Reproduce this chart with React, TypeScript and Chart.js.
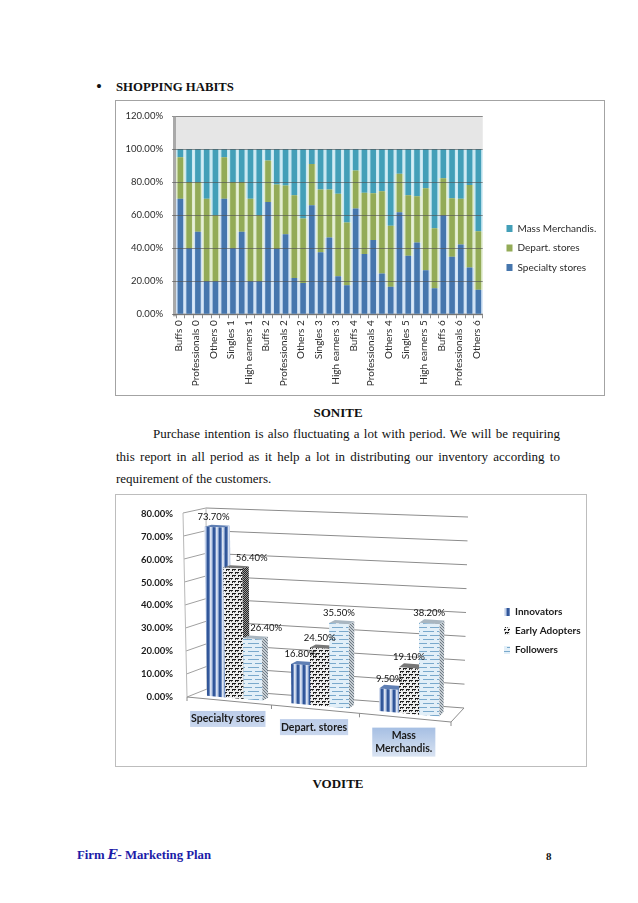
import React, { useEffect, useRef } from "react";
import { Chart, registerables } from "chart.js";

Chart.register(...registerables);

// ---------- Chart 1 data (SONITE) ----------
const segments = ["Buffs", "Singles", "Professionals", "High earners", "Others"];
const periods = [0, 1, 2, 3, 4, 5, 6];
const sonLabels: string[] = periods.flatMap((p) => segments.map((s) => `${s} ${p}`));
const sonSpecialty = [70, 40, 50, 20, 20, 70, 40, 50, 20, 20, 68, 39.5, 48.5, 22, 19, 66, 37.5, 46.5, 23, 17.6, 64, 36.5, 45, 24.7, 16.6, 61.7, 35.4, 43.5, 26.7, 15.8, 60, 34.8, 42.3, 28.3, 14.8];
const sonDepart = [25, 40, 30, 50, 40, 25, 40, 30, 50, 40, 25, 39, 29.5, 50, 39, 25, 38, 29, 50, 38, 23, 37, 28.3, 49.8, 37, 23.3, 36.6, 28, 49.6, 36.2, 22.4, 35.4, 27.7, 50, 35.4];
const sonMass = [5, 20, 20, 30, 40, 5, 20, 20, 30, 40, 7, 21.5, 22, 28, 42, 9, 24.5, 24.5, 27, 44.4, 13, 26.5, 26.7, 25.5, 46.4, 15, 28, 28.5, 23.7, 48, 17.6, 29.8, 30, 21.7, 49.8];
const sonTicksMax = 120;
const sonTickStep = 20;

// ---------- Chart 2 data (VODITE) ----------
const vodCategories: (string | string[])[] = ["Specialty stores", "Depart. stores", ["Mass", "Merchandis."]];
const vodInnovators = [73.7, 16.8, 9.5];
const vodEarly = [56.4, 24.5, 19.1];
const vodFollowers = [26.4, 35.5, 38.2];
const vodTicksMax = 80;
const vodTickStep = 10;

const pct = (v: any) => Number(v).toFixed(2) + "%";
const FONT = "Lato, Carlito, 'Open Sans', sans-serif";

// ---------- Patterns ----------
function tile(w: number, h: number, draw: (c: CanvasRenderingContext2D) => void): CanvasPattern {
  const cv = document.createElement("canvas");
  cv.width = w;
  cv.height = h;
  const c = cv.getContext("2d")!;
  draw(c);
  return document.createElement("canvas").getContext("2d")!.createPattern(cv, "repeat")!;
}
const stripePattern = () =>
  tile(6, 4, (c) => {
    ["#c3d0e8", "#7f9ac8", "#2f5597", "#36599c", "#6f8dc0", "#dbe3f1"].forEach((col, i) => {
      c.fillStyle = col;
      c.fillRect(i, 0, 1, 4);
    });
  });
const brickPattern = () =>
  tile(6, 6, (c) => {
    c.fillStyle = "#eeeeee";
    c.fillRect(0, 0, 6, 6);
    c.fillStyle = "#1e1e1e";
    c.fillRect(0, 0, 4, 1);
    c.fillRect(0, 1, 1, 1);
    c.fillRect(3, 3, 3, 1);
    c.fillRect(0, 3, 1, 1);
    c.fillRect(3, 4, 1, 1);
    c.fillStyle = "#6a6a6a";
    c.fillRect(2, 1, 1, 1);
    c.fillRect(5, 4, 1, 1);
  });
const dashPattern = () =>
  tile(14, 8, (c) => {
    c.fillStyle = "#e2eff8";
    c.fillRect(0, 0, 14, 8);
    c.fillStyle = "#7aa9cc";
    c.fillRect(0, 1, 11, 1);
    c.fillRect(7, 5, 7, 1);
    c.fillRect(0, 5, 4, 1);
  });
const sidePattern = () =>
  tile(3, 3, (c) => {
    c.fillStyle = "#c4ccd2";
    c.fillRect(0, 0, 3, 3);
    c.fillStyle = "#6f7a84";
    c.fillRect(0, 0, 1, 1);
    c.fillRect(1, 1, 1, 1);
    c.fillRect(2, 2, 1, 1);
  });
const darkSidePattern = () =>
  tile(2, 2, (c) => {
    c.fillStyle = "#9a9a9a";
    c.fillRect(0, 0, 2, 2);
    c.fillStyle = "#222222";
    c.fillRect(0, 0, 1, 1);
    c.fillRect(1, 1, 1, 1);
  });

// ---------- Plugins ----------
const sonBackdrop = {
  id: "sonBackdrop",
  afterLayout(chart: any) {
    const l = chart.legend;
    const dx = 382 - l.left;
    l.left += dx;
    l.right += dx;
    l.top -= 8;
    l.bottom -= 8;
  },
  beforeDatasetsDraw(chart: any) {
    const { ctx, chartArea: a, scales } = chart;
    const y100 = scales.y.getPixelForValue(100);
    ctx.save();
    ctx.fillStyle = "#e6e6e6";
    ctx.fillRect(a.left, a.top, a.right - a.left, y100 - a.top);
    ctx.fillStyle = "#a9a9a9";
    ctx.fillRect(a.left - 3, a.top + 1, 3, a.bottom - a.top + 1);
    const tints = ["#cfe1f4", "#e0ebcd", "#c9e8f2"];
    const cell = (a.right - a.left) / sonLabels.length;
    chart.data.datasets.forEach((_: any, di: number) => {
      chart.getDatasetMeta(di).data.forEach((el: any) => {
        ctx.fillStyle = tints[di];
        ctx.fillRect(el.x - cell / 2, el.y, cell, el.base - el.y);
      });
    });
    ctx.fillStyle = "#b4b4b4";
    ctx.fillRect(a.left, a.bottom - 1, a.right - a.left, 2);
    ctx.restore();
  },
};

// Perspective frame of the 3D chart, as offsets in canvas pixels.
const OX = 115;
const OY = 494;
const CORNERS = {
  fbl: [187 - OX, 697 - OY],
  fbr: [451 - OX, 722 - OY],
  ftl: [183 - OX, 513 - OY],
  ftr: [450 - OX, 527 - OY],
  bbl: [207 - OX, 689 - OY],
  bbr: [464 - OX, 708 - OY],
  btl: [206 - OX, 508 - OY],
  btr: [468 - OX, 517 - OY],
};
const D0 = 0.3;
const D1 = 0.62;
const WARP = 0.06;
const LABEL_SHIFT: Record<string, number> = { "1:0": 19, "2:0": 14 };

function projector(chart: any) {
  const a = chart.chartArea;
  const mix = (p: number[], q: number[], t: number) => [p[0] + (q[0] - p[0]) * t, p[1] + (q[1] - p[1]) * t];
  return (px: number, py: number, d: number) => {
    const u0 = (px - a.left) / (a.right - a.left);
    const u = u0 - WARP * u0 * (1 - u0);
    const v = (a.bottom - py) / (a.bottom - a.top);
    const C = CORNERS;
    const f = mix(mix(C.fbl, C.fbr, u), mix(C.ftl, C.ftr, u), v);
    const b = mix(mix(C.bbl, C.bbr, u), mix(C.btl, C.btr, u), v);
    return mix(f, b, d);
  };
}
function poly(ctx: CanvasRenderingContext2D, pts: number[][]) {
  ctx.beginPath();
  pts.forEach((p, i) => (i ? ctx.lineTo(p[0], p[1]) : ctx.moveTo(p[0], p[1])));
  ctx.closePath();
}

const vodFrame = {
  id: "vodFrame",
  afterLayout(chart: any) {
    const l = chart.legend;
    const dx = 380 - l.left;
    l.left += dx;
    l.right += dx;
    l.top -= 9;
    l.bottom -= 9;
  },
  beforeDatasetDraw() {
    return false;
  },
  beforeDatasetsDraw(chart: any) {
    const { ctx, chartArea: a, scales } = chart;
    const P = projector(chart);
    const line = (pts: number[][], col: string) => {
      ctx.strokeStyle = col;
      ctx.lineWidth = 1;
      ctx.beginPath();
      pts.forEach((p, i) => (i ? ctx.lineTo(p[0], p[1]) : ctx.moveTo(p[0], p[1])));
      ctx.stroke();
    };
    ctx.save();
    scales.y.ticks.forEach((t: any) => {
      const y = scales.y.getPixelForValue(t.value);
      line([P(a.left, y, 0), P(a.left, y, 1)], "#a0a0a0");
      line([P(a.left, y, 1), P(a.right, y, 1)], "#8c8c8c");
    });
    line([P(a.left, a.top, 0), P(a.left, a.bottom, 0)], "#b8b8b8");
    line([P(a.left, a.top, 1), P(a.left, a.bottom, 1)], "#b8b8b8");
    line([P(a.left, a.bottom, 0), P(a.right, a.bottom, 0), P(a.right, a.bottom, 1)], "#8c8c8c");
    for (let i = 0; i <= vodCategories.length; i++) {
      const x = a.left + ((a.right - a.left) * i) / vodCategories.length;
      const p = P(x, a.bottom, 0);
      line([p, [p[0], p[1] + 4]], "#8c8c8c");
    }
    const sides = [null, darkSidePattern(), sidePattern()];
    for (let c = 0; c < vodCategories.length; c++) {
      chart.data.datasets.forEach((ds: any, di: number) => {
        const el = chart.getDatasetMeta(di).data[c];
        const l = el.x - el.width / 2;
        const r = el.x + el.width / 2;
        const ftl = P(l, el.y, D0);
        const ftr = P(r, el.y, D0);
        const fbl = P(l, el.base, D0);
        const fbr = P(r, el.base, D0);
        const btl = P(l, el.y, D1);
        const btr = P(r, el.y, D1);
        const bbr = P(r, el.base, D1);
        poly(ctx, [ftr, btr, bbr, fbr]);
        ctx.fillStyle = sides[di] || ds.backgroundColor;
        ctx.fill();
        poly(ctx, [ftl, btl, btr, ftr]);
        ctx.fillStyle = di === 0 ? "#5f7fb4" : di === 1 ? "#777777" : "#a9b6c0";
        ctx.fill();
        poly(ctx, [ftl, ftr, fbr, fbl]);
        ctx.fillStyle = ds.backgroundColor;
        ctx.fill();
      });
    }
    ctx.restore();
  },
  afterDatasetsDraw(chart: any) {
    const { ctx, chartArea: a, scales } = chart;
    const P = projector(chart);
    ctx.save();
    ctx.textAlign = "center";
    ctx.textBaseline = "middle";
    ctx.fillStyle = "#111";
    ctx.font = `9.5px ${FONT}`;
    chart.data.datasets.forEach((ds: any, di: number) => {
      chart.getDatasetMeta(di).data.forEach((el: any, i: number) => {
        const p = P(el.x, el.y, D0);
        const shift = LABEL_SHIFT[`${di}:${i}`] || 0;
        ctx.fillText(pct(ds.data[i]), p[0] + shift, p[1] - 10.5);
      });
    });
    // Category labels sit under the slanted floor, each with its blue plate.
    ctx.font = `bold 10.5px ${FONT}`;
    chart.data.labels.forEach((lab: any, i: number) => {
      const x = scales.x.getPixelForValue(i);
      const p = P(x, a.bottom, 0);
      const cx = p[0] - 1;
      const lines: string[] = Array.isArray(lab) ? lab : [lab];
      const cy = p[1] + 18;
      const w = Math.max(...lines.map((s) => ctx.measureText(s).width)) + 2;
      const plateW = lines.length > 1 ? w + 4 : w;
      const top = cy - 8;
      const h = lines.length * 13 + 3;
      const g = ctx.createLinearGradient(0, top, 0, top + h);
      g.addColorStop(0, lines.length > 1 ? "#a6bfe3" : "#bccde9");
      g.addColorStop(1, lines.length > 1 ? "#d9e3f2" : "#c9d7ee");
      ctx.fillStyle = g;
      ctx.fillRect(cx - plateW / 2, top, plateW, h);
      ctx.fillStyle = "#1a1a1a";
      lines.forEach((s, k) => ctx.fillText(s, cx, cy + k * 13));
    });
    ctx.restore();
  },
};

// ---------- Layout helpers ----------
const T: React.CSSProperties = {
  position: "absolute",
  fontFamily: "'Liberation Serif', 'Times New Roman', serif",
  color: "#111",
  whiteSpace: "nowrap",
  margin: 0,
};

export default function App() {
  const sonRef = useRef<HTMLCanvasElement>(null);
  const vodRef = useRef<HTMLCanvasElement>(null);

  useEffect(() => {
    const son = new Chart(sonRef.current!, {
      type: "bar",
      data: {
        labels: sonLabels,
        datasets: [
          { label: "Specialty stores", data: sonSpecialty, backgroundColor: "#4676ad", barPercentage: 0.64, categoryPercentage: 1 },
          { label: "Depart. stores", data: sonDepart, backgroundColor: "#93ab57", barPercentage: 0.64, categoryPercentage: 1 },
          { label: "Mass Merchandis.", data: sonMass, backgroundColor: "#439fb8", barPercentage: 0.64, categoryPercentage: 1 },
        ],
      },
      options: {
        responsive: false,
        animation: false,
        devicePixelRatio: 1,
        layout: { padding: { top: 16, right: 13, left: 0, bottom: 0 } },
        plugins: {
          tooltip: { enabled: false },
          title: { display: false },
          legend: {
            position: "right",
            reverse: true,
            labels: { boxWidth: 6, boxHeight: 7, padding: 9.5, color: "#2b2b2b", font: { family: FONT, size: 10 } },
          },
        },
        scales: {
          x: {
            stacked: true,
            afterFit: (s: any) => { s.height = 81.7; },
            border: { color: "#8c8c8c" },
            grid: { drawOnChartArea: false, drawTicks: true, tickLength: 4, color: "#8c8c8c" },
            ticks: {
              autoSkip: false,
              minRotation: 90,
              maxRotation: 90,
              padding: 2,
              labelOffset: -2,
              color: "#2b2b2b",
              font: { family: FONT, size: 10 },
              callback(this: any, v: any, i: number) {
                return i % 2 === 0 ? this.getLabelForValue(v) : "";
              },
            },
          },
          y: {
            stacked: true,
            min: 0,
            max: sonTicksMax,
            afterFit: (s: any) => { s.width = 61; },
            border: { display: false },
            grid: { z: 1, color: "rgba(80,80,80,0.62)", tickLength: 4 },
            ticks: { stepSize: sonTickStep, padding: 9, color: "#2b2b2b", font: { family: FONT, size: 9.5 }, callback: pct },
          },
        },
      },
      plugins: [sonBackdrop],
    } as any);

    const vod = new Chart(vodRef.current!, {
      type: "bar",
      data: {
        labels: vodCategories as any,
        datasets: [
          { label: "Innovators", data: vodInnovators, backgroundColor: stripePattern() as any },
          { label: "Early Adopters", data: vodEarly, backgroundColor: brickPattern() as any },
          { label: "Followers", data: vodFollowers, backgroundColor: dashPattern() as any },
        ],
      },
      options: {
        responsive: false,
        animation: false,
        devicePixelRatio: 1,
        layout: { padding: { top: 19, right: 30, left: 0, bottom: 0 } },
        datasets: { bar: { barPercentage: 1, categoryPercentage: 0.66 } },
        plugins: {
          tooltip: { enabled: false },
          title: { display: false },
          legend: {
            position: "right",
            labels: { boxWidth: 6, boxHeight: 8, padding: 9, color: "#1a1a1a", font: { family: FONT, size: 10, weight: "bold" } },
          },
        },
        scales: {
          x: {
            afterFit: (s: any) => { s.height = 70; },
            border: { display: false },
            grid: { display: false },
            ticks: { display: false },
          },
          y: {
            min: 0,
            max: vodTicksMax,
            afterFit: (s: any) => { s.width = 72; },
            border: { display: false },
            grid: { display: false, drawTicks: false },
            ticks: { stepSize: vodTickStep, padding: 14, color: "#1a1a1a", font: { family: FONT, size: 9.5, weight: "bold" }, callback: pct },
          },
        },
      },
      plugins: [vodFrame],
    } as any);

    return () => {
      son.destroy();
      vod.destroy();
    };
  }, []);

  return (
    <div style={{ position: "absolute", left: 0, top: 0, width: 638, height: 903, background: "#fff", overflow: "hidden" }}>
      <div style={{ ...T, left: 96, top: 77, fontSize: 17 }}>•</div>
      <div style={{ ...T, left: 116, top: 80, fontSize: 12.75, fontWeight: "bold" }}>SHOPPING HABITS</div>

      <div style={{ position: "absolute", left: 115, top: 100, width: 490, height: 296, outline: "1px solid #a3a3a3", outlineOffset: -1 }}>
        <canvas ref={sonRef} width={490} height={296} style={{ display: "block" }} />
      </div>

      <div style={{ ...T, left: 0, width: 676, top: 405, textAlign: "center", fontSize: 13, fontWeight: "bold" }}>SONITE</div>
      <div style={{ ...T, left: 153, width: 407, top: 426, fontSize: 13, textAlign: "justify", textAlignLast: "justify", whiteSpace: "normal" }}>
        Purchase intention is also fluctuating a lot with period. We will be requiring
      </div>
      <div style={{ ...T, left: 116, width: 444, top: 449, fontSize: 13, textAlign: "justify", textAlignLast: "justify", whiteSpace: "normal" }}>
        this report in all period as it help a lot in distributing our inventory according to
      </div>
      <div style={{ ...T, left: 116, top: 471, fontSize: 13 }}>requirement of the customers.</div>

      <div style={{ position: "absolute", left: 115, top: 494, width: 472, height: 273, outline: "1px solid #bdbdbd", outlineOffset: -1 }}>
        <canvas ref={vodRef} width={472} height={273} style={{ display: "block" }} />
      </div>

      <div style={{ ...T, left: 0, width: 676, top: 776, textAlign: "center", fontSize: 13, fontWeight: "bold" }}>VODITE</div>

      <div style={{ ...T, left: 77, top: 847, fontSize: 12.75, fontWeight: "bold", color: "#1c1ca8" }}>
        Firm <span style={{ fontStyle: "italic", fontFamily: "'DejaVu Serif'" }}>E</span>- Marketing Plan
      </div>
      <div style={{ ...T, left: 546, top: 850, fontSize: 11, fontWeight: "bold" }}>8</div>
    </div>
  );
}
